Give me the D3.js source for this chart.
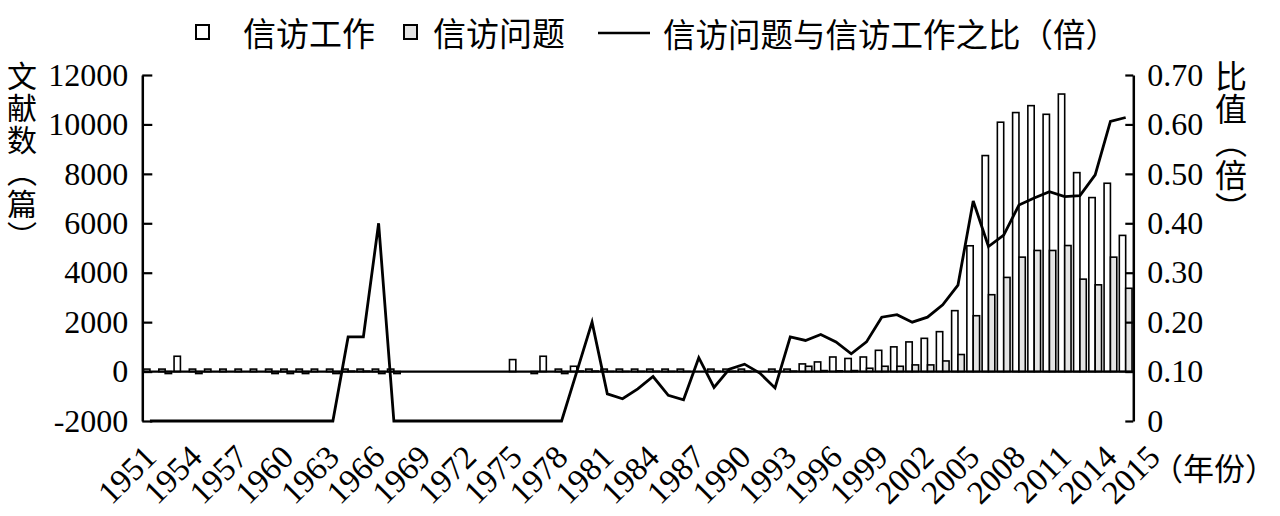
<!DOCTYPE html>
<html><head><meta charset="utf-8">
<script src="https://cdn.jsdelivr.net/npm/d3@7"></script>
<style>body{margin:0;background:#fff}</style>
</head><body><svg id="c" width="1280" height="516"></svg>
<script>
// ---- data ----
const years = d3.range(1951, 2016);
// 信访工作 (articles)
const work = [
 100,100,620,100,100,100,100,100,100,100, // 1951-1960
 100,100,100,100,100,100,100,0,0,0,        // 1961-1970
 0,0,0,0,485,0,620,100,215,100,            // 1971-1980
 100,100,100,100,100,100,0,100,100,100,    // 1981-1990
 0,100,100,310,390,590,530,590,860,1000,   // 1991-2000
 1200,1345,1615,2465,5090,8740,10090,10480,10760,10410, // 2001-2010
 11230,8050,7040,7620,5510                 // 2011-2015
];
// 信访问题 (articles)
const problem = [
 0,-80,0,-80,0,0,0,0,-80,-80,              // 1951-1960
 -80,0,-80,17,17,-80,-80,0,0,0,            // 1961-1970
 0,0,0,0,0,-80,0,-80,20,20,                // 1971-1980
 5,5,6,9,5,4,0,7,10,12,                    // 1981-1990
 0,7,17,215,40,30,40,135,215,215,          // 1991-2000
 270,270,430,690,2260,3110,3810,4630,4900,4900, // 2001-2010
 5100,3740,3510,4630,3370                  // 2011-2015
];
// 信访问题与信访工作之比（倍）
const ratio = [
 0,0,0,0,0,0,0,0,0,0,                      // 1951-1960
 0,0,0,0.17,0.17,0.40,0,0,0,0,             // 1961-1970
 0,0,0,0,0,0,0,0,0.10,0.20,                // 1971-1980
 0.055,0.045,0.065,0.09,0.052,0.043,0.128,0.068,0.105,0.115, // 1981-1990
 0.097,0.067,0.17,0.163,0.175,0.16,0.136,0.16,0.21,0.215,    // 1991-2000
 0.20,0.21,0.235,0.275,0.445,0.353,0.376,0.437,0.451,0.464,  // 2001-2010
 0.454,0.456,0.498,0.606,0.614             // 2011-2015
];
const leftTicks = [-2000,0,2000,4000,6000,8000,10000,12000];
const rightTicks = [0,0.1,0.2,0.3,0.4,0.5,0.6,0.7];
const xLabels = [1951,1954,1957,1960,1963,1966,1969,1972,1975,1978,1981,1984,1987,1990,1993,1996,1999,2002,2005,2008,2011,2014,2015];
const seriesKeys = ["work","problem"];
const legendLabels = ["信访工作","信访问题","信访问题与信访工作之比（倍）"];
const leftTitle = "文献数（篇）";
const rightTitle = "比值（倍）";
const xTitle = "（年份）";

// ---- layout ----
const svg = d3.select("#c");
const X0 = 142.3, X1 = 1133.3, YT = 75, YB = 421;
const CJK = "'Noto Sans CJK SC','Noto Sans CJK JP',sans-serif";
const SERIF = "'Liberation Serif','Times New Roman',serif";

const x = d3.scaleBand().domain(years).range([X0, X1]).padding(0);
const xs = d3.scaleBand().domain(seriesKeys).range([0, x.bandwidth()]).paddingInner(0).paddingOuter(0.2);
const yL = d3.scaleLinear().domain([-2000, 12000]).range([YB, YT]);
const yR = d3.scaleLinear().domain([0, 0.7]).range([YB, YT]);
const fills = {work: "#ffffff", problem: "#e4e4e4"};

const rows = years.map((yr, i) => ({year: yr, work: work[i], problem: problem[i], ratio: ratio[i]}));

// bars
const g = svg.append("g");
rows.forEach(r => {
  seriesKeys.forEach(k => {
    const v = r[k];
    if (v === 0) return;
    const y0 = yL(0), y1 = yL(v);
    g.append("rect")
      .attr("x", x(r.year) + xs(k))
      .attr("width", xs.bandwidth())
      .attr("y", Math.min(y0, y1))
      .attr("height", Math.abs(y1 - y0))
      .attr("fill", fills[k])
      .attr("stroke", "#000")
      .attr("stroke-width", 1.6);
  });
});

// zero line
svg.append("line").attr("x1", X0).attr("x2", X1).attr("y1", yL(0)).attr("y2", yL(0))
  .attr("stroke", "#000").attr("stroke-width", 2.2);

// ratio line
svg.append("path").datum(rows)
  .attr("d", d3.line().x(d => x(d.year) + x.bandwidth() / 2).y(d => yR(d.ratio)))
  .attr("fill", "none").attr("stroke", "#000").attr("stroke-width", 2.8).attr("stroke-linejoin", "miter");

// left axis
const axL = svg.append("g").attr("transform", `translate(${X0},0)`)
  .call(d3.axisLeft(yL).tickValues(leftTicks).tickSizeInner(-10).tickSizeOuter(0).tickPadding(14)
    .tickFormat(d => String(d)));
// right axis
const axR = svg.append("g").attr("transform", `translate(${X1},0)`)
  .call(d3.axisRight(yR).tickValues(rightTicks).tickSizeInner(-8).tickSizeOuter(0).tickPadding(14)
    .tickFormat(d => d === 0 ? "0" : d.toFixed(2)));
[axL, axR].forEach(a => {
  a.select(".domain").attr("stroke", "#000").attr("stroke-width", 2.5);
  a.selectAll(".tick line").attr("stroke", "#000").attr("stroke-width", 2.2);
  a.selectAll(".tick text").attr("font-family", SERIF).attr("font-size", 32).attr("fill", "#000");
});

// x labels
const xl = svg.append("g");
xLabels.forEach((yr, i) => {
  let px = x(yr) + x.bandwidth() / 2;
  if (i === xLabels.length - 1) px += 28; // last label nudged right to avoid overlap
  const py = 451;
  xl.append("text")
    .attr("transform", `translate(${px},${py}) rotate(-45)`)
    .attr("text-anchor", "end").attr("dy", "0.35em")
    .attr("font-family", SERIF).attr("font-size", 33).attr("fill", "#000")
    .text(yr);
});

// x title
svg.append("text").attr("x", 1152).attr("y", 466).attr("dominant-baseline", "central")
  .attr("font-family", CJK).attr("font-size", 31).attr("fill", "#000").text(xTitle);

// vertical titles
svg.append("text").attr("x", 22).attr("y", 61)
  .attr("style", "writing-mode: vertical-rl; letter-spacing: 2px")
  .attr("font-family", CJK).attr("font-size", 30).attr("fill", "#000").text(leftTitle);
svg.append("text").attr("x", 1231).attr("y", 60)
  .attr("style", "writing-mode: vertical-rl; letter-spacing: 1px")
  .attr("font-family", CJK).attr("font-size", 32).attr("fill", "#000").text(rightTitle);

// legend
const lg = svg.append("g");
lg.append("rect").attr("x", 196).attr("y", 25).attr("width", 13).attr("height", 14)
  .attr("fill", fills.work).attr("stroke", "#000").attr("stroke-width", 2);
lg.append("text").attr("x", 243).attr("y", 32).attr("dominant-baseline", "central")
  .attr("font-family", CJK).attr("font-size", 33).attr("fill", "#000").text(legendLabels[0]);
lg.append("rect").attr("x", 404).attr("y", 25).attr("width", 13).attr("height", 14)
  .attr("fill", fills.problem).attr("stroke", "#000").attr("stroke-width", 2);
lg.append("text").attr("x", 433).attr("y", 32).attr("dominant-baseline", "central")
  .attr("font-family", CJK).attr("font-size", 33).attr("fill", "#000").text(legendLabels[1]);
lg.append("line").attr("x1", 598).attr("x2", 650).attr("y1", 33).attr("y2", 33)
  .attr("stroke", "#000").attr("stroke-width", 2.6);
lg.append("text").attr("x", 663).attr("y", 32).attr("dominant-baseline", "central")
  .attr("font-family", CJK).attr("font-size", 32.5).attr("fill", "#000").text(legendLabels[2]);
</script>
</body></html>
